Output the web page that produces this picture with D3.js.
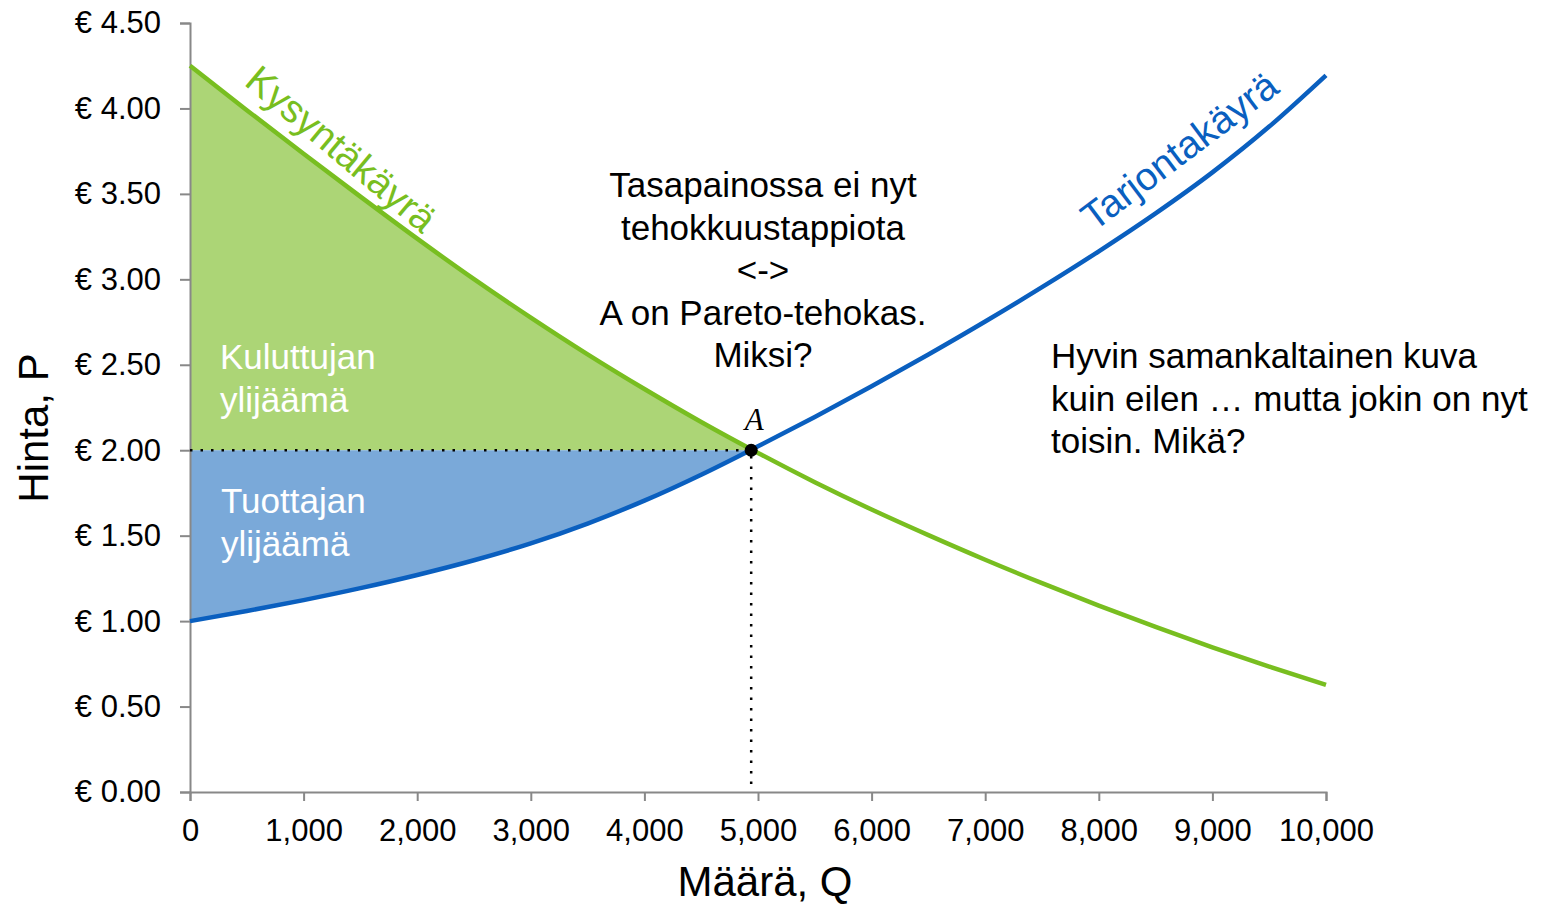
<!DOCTYPE html>
<html>
<head>
<meta charset="utf-8">
<script src="https://cdn.jsdelivr.net/npm/d3@7"></script>
<style>
    body { margin: 0; background: #fff; }
    svg { display: block; font-family: Arial, "Liberation Sans", sans-serif; }
</style>
</head>
<body>
<svg width="1546" height="908"></svg>
<script>
'use strict';

// quantities (every 500 units)
const quantities = [0, 500, 1000, 1500, 2000, 2500, 3000, 3500, 4000, 4500, 5000,
    5500, 6000, 6500, 7000, 7500, 8000, 8500, 9000, 9500, 10000];
// demand curve prices
const demandPrices = [4.25, 3.99, 3.735, 3.484, 3.238, 3.001, 2.776, 2.561, 2.358, 2.165, 1.984,
    1.813, 1.653, 1.503, 1.359, 1.222, 1.091, 0.966, 0.847, 0.734, 0.627];
// supply curve prices
const supplyPrices = [1.00, 1.059, 1.123, 1.193, 1.27, 1.356, 1.455, 1.571, 1.705, 1.857, 2.023,
    2.195, 2.374, 2.56, 2.753, 2.954, 3.164, 3.386, 3.626, 3.894, 4.194];
// equilibrium point A
const eqQuantity = 4940;
const eqPrice = 2.0;

const yTicks = [0, 0.5, 1, 1.5, 2, 2.5, 3, 3.5, 4, 4.5];
const xTicks = [0, 1000, 2000, 3000, 4000, 5000, 6000, 7000, 8000, 9000, 10000];

const middleNote = ["Tasapainossa ei nyt", "tehokkuustappiota", "<->", "A on Pareto-tehokas.", "Miksi?"];
const rightNote = ["Hyvin samankaltainen kuva", "kuin eilen \u2026 mutta jokin on nyt", "toisin. Mikä?"];

const green = "#78be20", greenFill = "#acd576";
const blue = "#0a5fbf", blueFill = "#7aa9d9";

var svg = d3.select("svg");

var x = d3.scaleLinear().domain([0, 10000]).range([190, 1326]);
var y = d3.scaleLinear().domain([0, 4.5]).range([792, 23]);

var demand = quantities.map(function (q, i) { return {q: q, p: demandPrices[i]}; });
var supply = quantities.map(function (q, i) { return {q: q, p: supplyPrices[i]}; });

// points left of the equilibrium, closed at A, for the surplus areas
function upToEq(data) {
    var left = data.filter(function (d) { return d.q < eqQuantity; });
    left.push({q: eqQuantity, p: eqPrice});
    return left;
}

var area = d3.area()
    .curve(d3.curveMonotoneX)
    .x(function (d) { return x(d.q); })
    .y0(y(eqPrice))
    .y1(function (d) { return y(d.p); });

svg.append("path").attr("d", area(upToEq(demand))).attr("fill", greenFill);
svg.append("path").attr("d", area(upToEq(supply))).attr("fill", blueFill);

// axes
var yAxis = svg.append("g")
    .attr("transform", "translate(" + x(0) + ",0)")
    .call(d3.axisLeft(y).tickValues(yTicks).tickSize(10).tickPadding(19)
        .tickFormat(function (d) { return "€ " + d3.format(".2f")(d); }));
var xAxis = svg.append("g")
    .attr("transform", "translate(0," + y(0) + ")")
    .call(d3.axisBottom(x).tickValues(xTicks).tickSize(9).tickPadding(18)
        .tickFormat(d3.format(",")));

[xAxis, yAxis].forEach(function (ax) {
    ax.select(".domain").attr("stroke", "#888").attr("stroke-width", 2);
    ax.selectAll(".tick line").attr("stroke", "#888").attr("stroke-width", 2);
    ax.selectAll(".tick text").attr("fill", "#000").style("font-size", "31px")
        .style("font-family", "Arial, 'Liberation Sans', sans-serif");
});

svg.append("text")
    .attr("x", 765).attr("y", 896)
    .attr("text-anchor", "middle")
    .style("font-size", "42px")
    .text("Määrä, Q");

svg.append("text")
    .attr("transform", "translate(48,428) rotate(-90)")
    .attr("text-anchor", "middle")
    .style("font-size", "42px")
    .text("Hinta, P");

// dotted guides to A
svg.append("path")
    .attr("d", "M" + x(0) + "," + y(eqPrice) + "H" + x(eqQuantity) + "V" + y(0))
    .attr("fill", "none")
    .attr("stroke", "#000")
    .attr("stroke-width", 2.5)
    .attr("stroke-dasharray", "2.5,8");

var line = d3.line()
    .curve(d3.curveMonotoneX)
    .x(function (d) { return x(d.q); })
    .y(function (d) { return y(d.p); });

svg.append("path").attr("d", line(demand))
    .attr("fill", "none").attr("stroke", green).attr("stroke-width", 4.5);
svg.append("path").attr("d", line(supply))
    .attr("fill", "none").attr("stroke", blue).attr("stroke-width", 4.5);

svg.append("circle")
    .attr("cx", x(eqQuantity)).attr("cy", y(eqPrice)).attr("r", 6.5)
    .attr("fill", "#000");

svg.append("text")
    .attr("x", x(eqQuantity) + 3).attr("y", 430)
    .attr("text-anchor", "middle")
    .style("font-family", "'Times New Roman', 'Liberation Serif', serif")
    .style("font-style", "italic")
    .style("font-size", "31px")
    .text("A");

// curve labels
svg.append("text")
    .attr("transform", "translate(243,84) rotate(40)")
    .attr("fill", green)
    .style("font-size", "39px")
    .text("Kysyntäkäyrä");

svg.append("text")
    .attr("transform", "translate(1094,232) rotate(-37)")
    .attr("fill", blue)
    .style("font-size", "39px")
    .text("Tarjontakäyrä");

// surplus labels and notes
function multiline(lines, xPos, yPos, anchor, fill) {
    svg.append("g").selectAll("text")
        .data(lines)
        .enter().append("text")
        .attr("x", xPos)
        .attr("y", function (d, i) { return yPos + i * 42.5; })
        .attr("text-anchor", anchor)
        .attr("fill", fill)
        .style("font-size", "35px")
        .text(function (d) { return d; });
}

multiline(["Kuluttujan", "ylijäämä"], 220, 369, "start", "#fff");
multiline(["Tuottajan", "ylijäämä"], 221, 513, "start", "#fff");
multiline(middleNote, 763, 197, "middle", "#000");
multiline(rightNote, 1051, 368, "start", "#000");
</script>
</body>
</html>
